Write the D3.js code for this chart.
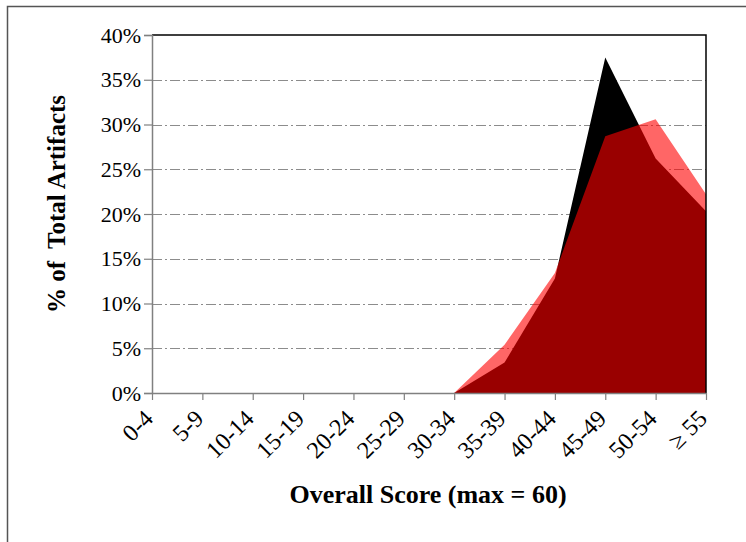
<!DOCTYPE html>
<html>
<head>
<meta charset="utf-8">
<script src="https://cdn.jsdelivr.net/npm/d3@7"></script>
<style>
  body { margin: 0; background: #fff; }
  text { font-family: "Liberation Serif", "Times New Roman", serif; fill: #000; }
</style>
</head>
<body>
<div id="chart"></div>
<script>
const WIDTH = 746
const HEIGHT = 542
const MARGIN = { top: 35, right: 40, bottom: 149, left: 152 }

// chart data
const categories = ['0-4', '5-9', '10-14', '15-19', '20-24', '25-29', '30-34',
                    '35-39', '40-44', '45-49', '50-54', '\u2265 55']
const seriesBlack = [0, 0, 0, 0, 0, 0, 0, 3.4, 12.8, 37.5, 26.2, 20.3]
const seriesRed   = [0, 0, 0, 0, 0, 0, 0, 5.4, 13.4, 28.7, 30.6, 22.2]
const yTicks = [0, 5, 10, 15, 20, 25, 30, 35, 40]

const innerW = WIDTH - MARGIN.left - MARGIN.right
const innerH = HEIGHT - MARGIN.top - MARGIN.bottom

let svg = d3.select('#chart')
  .append('svg')
    .attr('width', WIDTH)
    .attr('height', HEIGHT)

// outer frame (only top and left edges visible)
svg.append('path')
  .attr('d', 'M7.5 ' + HEIGHT + 'V6.5H' + WIDTH)
  .attr('fill', 'none')
  .attr('stroke', '#555')
  .attr('stroke-width', 1.5)

let g = svg.append('g')
  .attr('transform', 'translate(' + [MARGIN.left, MARGIN.top] + ')')

let x = d3.scalePoint()
  .domain(categories)
  .range([0, innerW])

let y = d3.scaleLinear()
  .domain([0, 40])
  .range([innerH, 0])

// gridlines
g.append('g')
  .selectAll('line')
  .data(yTicks.filter((d) => d > 0 && d < 40))
  .enter().append('line')
    .attr('x1', 0)
    .attr('x2', innerW)
    .attr('y1', (d) => Math.round(y(d)) + 0.5)
    .attr('y2', (d) => Math.round(y(d)) + 0.5)
    .attr('stroke', '#8c8c8c')
    .attr('stroke-width', 1.2)
    .attr('stroke-dasharray', '10,3,2,3')

let area = d3.area()
  .x((d, i) => x(categories[i]))
  .y0(innerH)
  .y1((d) => y(d))

g.append('path')
  .datum(seriesBlack)
  .attr('d', area)
  .attr('fill', '#000')

g.append('path')
  .datum(seriesRed)
  .attr('d', area)
  .attr('fill', '#ff0000')
  .attr('fill-opacity', 0.6)

// plot frame top and right
g.append('path')
  .attr('d', 'M0 0H' + innerW + 'V' + innerH)
  .attr('fill', 'none')
  .attr('stroke', '#000')
  .attr('stroke-width', 1.5)

// y axis
let yAxis = g.append('g')
  .call(d3.axisLeft(y).tickValues(yTicks).tickSize(8).tickFormat((d) => d + '%'))
yAxis.select('.domain').attr('stroke', '#808080').attr('stroke-width', 1.5)
yAxis.selectAll('.tick line').attr('stroke', '#808080').attr('stroke-width', 1.2)
yAxis.selectAll('.tick text')
  .attr('x', -11)
  .style('font-size', '22px')
  .style('font-family', '"Liberation Serif", serif')

// x axis
let xAxis = g.append('g')
  .attr('transform', 'translate(0,' + innerH + ')')
  .call(d3.axisBottom(x).tickSize(7).tickSizeOuter(0))
xAxis.select('.domain').attr('stroke', '#808080').attr('stroke-width', 1.5)
xAxis.selectAll('.tick line').attr('stroke', '#808080').attr('stroke-width', 1.2)
xAxis.selectAll('.tick text')
  .attr('text-anchor', 'end')
  .attr('dy', 0)
  .attr('transform', 'translate(-5,20) rotate(-45)')
  .style('font-size', '24px')
  .style('font-family', '"Liberation Serif", serif')

// axis titles
svg.append('text')
  .attr('transform', 'translate(65,204) rotate(-90)')
  .attr('text-anchor', 'middle')
  .style('font-size', '25px')
  .style('font-weight', 'bold')
  .style('white-space', 'pre')
  .text('% of  Total Artifacts')

svg.append('text')
  .attr('x', 428)
  .attr('y', 503)
  .attr('text-anchor', 'middle')
  .style('font-size', '26px')
  .style('font-weight', 'bold')
  .text('Overall Score (max = 60)')
</script>
</body>
</html>
